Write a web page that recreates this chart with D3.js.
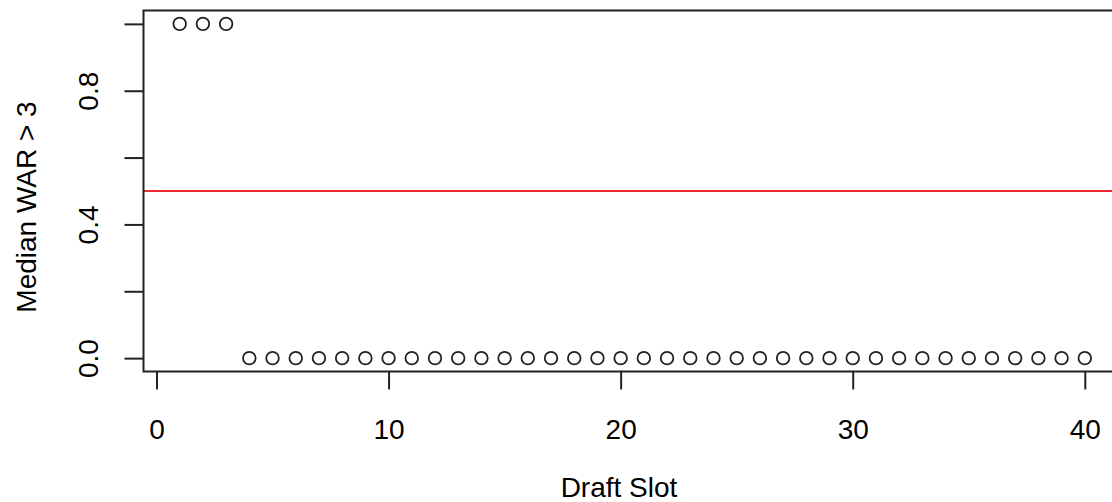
<!DOCTYPE html>
<html>
<head>
<meta charset="utf-8">
<script src="https://cdn.jsdelivr.net/npm/d3@7"></script>
<style>
  html, body { margin: 0; padding: 0; background: #fff; }
  svg { display: block; font-family: "Liberation Sans", Arial, sans-serif; }
</style>
</head>
<body>
<svg id="chart" width="1112" height="502"></svg>
<script>
// Draft slot vs. whether the median WAR exceeds 3 (1 = yes, 0 = no)
const slots = d3.range(1, 41);
const medianAbove3 = [1, 1, 1, 0, 0, 0, 0, 0, 0, 0,
                      0, 0, 0, 0, 0, 0, 0, 0, 0, 0,
                      0, 0, 0, 0, 0, 0, 0, 0, 0, 0,
                      0, 0, 0, 0, 0, 0, 0, 0, 0, 0];
const xTicks = [0, 10, 20, 30, 40];
const yTicks = [0, 0.2, 0.4, 0.6, 0.8, 1.0];
const yTickLabels = ["0.0", "", "0.4", "", "0.8", ""];
const refLine = 0.5;
const xTitle = "Draft Slot";
const yTitle = "Median WAR > 3";

const svg = d3.select("#chart");
const fontSize = 28;

// R-style 4% padding around the data range
const pad = (lo, hi) => { const e = (hi - lo) * 0.04; return [lo - e, hi + e]; };
const xDom = pad(d3.min(slots), d3.max(slots));
const yDom = pad(d3.min(medianAbove3), d3.max(medianAbove3));

const x = d3.scaleLinear().domain(xDom).range([143.5, 1121]);
const y = d3.scaleLinear().domain(yDom).range([371.5, 10.5]);

const ink = "#222";

// Reference line
svg.append("line")
  .attr("x1", x.range()[0]).attr("x2", x.range()[1])
  .attr("y1", y(refLine)).attr("y2", y(refLine))
  .attr("stroke", "#ee2a33").attr("stroke-width", 2);

// Points
svg.append("g").selectAll("circle")
  .data(slots.map((s, i) => [s, medianAbove3[i]]))
  .join("circle")
  .attr("cx", d => x(d[0]))
  .attr("cy", d => y(d[1]))
  .attr("r", 6.3)
  .attr("fill", "none")
  .attr("stroke", ink)
  .attr("stroke-width", 1.8);

// Plot frame
svg.append("rect")
  .attr("x", x.range()[0]).attr("y", y.range()[1])
  .attr("width", x.range()[1] - x.range()[0])
  .attr("height", y.range()[0] - y.range()[1])
  .attr("fill", "none").attr("stroke", ink).attr("stroke-width", 2);

// X axis
const xAxis = d3.axisBottom(x).tickValues(xTicks).tickSize(18).tickPadding(8)
  .tickFormat(d3.format("d"));
const gx = svg.append("g").attr("transform", `translate(0,${y.range()[0]})`).call(xAxis);
gx.select(".domain").remove();
gx.selectAll(".tick line").attr("stroke", ink).attr("stroke-width", 2);
gx.selectAll(".tick text").attr("fill", "#000").attr("font-size", fontSize)
  .attr("font-family", "Liberation Sans, Arial, sans-serif")
  .attr("dy", null).attr("y", 67);

// Y axis
const yAxis = d3.axisLeft(y).tickValues(yTicks).tickSize(19)
  .tickFormat((d, i) => yTickLabels[i]);
const gy = svg.append("g").attr("transform", `translate(${x.range()[0]},0)`).call(yAxis);
gy.select(".domain").remove();
gy.selectAll(".tick line").attr("stroke", ink).attr("stroke-width", 2);
gy.selectAll(".tick text")
  .attr("fill", "#000").attr("font-size", fontSize)
  .attr("font-family", "Liberation Sans, Arial, sans-serif")
  .attr("x", null).attr("dy", null)
  .attr("text-anchor", "middle")
  .attr("transform", "translate(-46,0) rotate(-90)");

// Axis titles
svg.append("text")
  .attr("x", 619).attr("y", 497)
  .attr("text-anchor", "middle")
  .attr("font-size", fontSize).attr("fill", "#000")
  .text(xTitle);

svg.append("text")
  .attr("transform", "translate(36,207) rotate(-90)")
  .attr("text-anchor", "middle")
  .attr("font-size", fontSize).attr("fill", "#000")
  .text(yTitle);
</script>
</body>
</html>
